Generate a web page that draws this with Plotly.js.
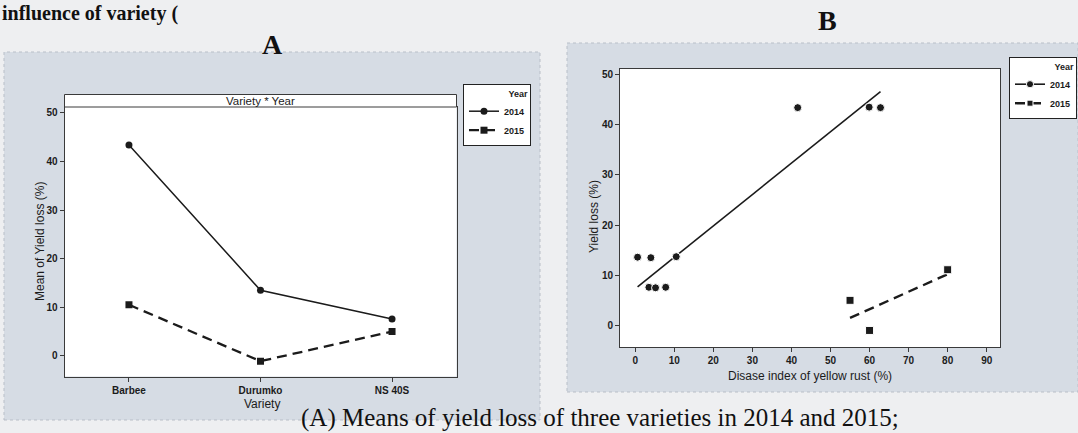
<!DOCTYPE html>
<html><head><meta charset="utf-8">
<script src="https://cdn.plot.ly/plotly-3.0.1.min.js"></script>
<style>html,body{margin:0;padding:0;background:#eeeff1;}#chart{width:1078px;height:433px;}</style>
</head><body><div id="chart"></div>
<script>
// Panel A: means of yield loss (%) by variety and year
const varieties = ['Barbee', 'Durumko', 'NS 40S'];
const meanLoss2014 = [43.4, 13.5, 7.6];
const meanLoss2015 = [10.5, -1.1, 5.0];

// Panel B: yield loss (%) vs disease index of yellow rust (%)
const disease2014 = [0.6, 4.0, 3.5, 5.2, 7.8, 10.5, 41.6, 59.9, 62.8];
const loss2014 = [13.6, 13.5, 7.6, 7.5, 7.6, 13.7, 43.4, 43.5, 43.4];
const disease2015 = [55, 60, 80];
const loss2015 = [5.0, -1.0, 11.1];
// fitted line end points
const fitX2014 = [0.6, 62.8];
const fitY2014 = [7.7, 46.6];
const fitX2015 = [55, 80];
const fitY2015 = [1.5, 10.2];

const years = ['2014', '2015'];
const xTicksB = [0, 10, 20, 30, 40, 50, 60, 70, 80, 90];
const yTicks = [0, 10, 20, 30, 40, 50];

const W = 1078, H = 433;
const px = v => v / W;
const py = v => 1 - v / H;
const ink = '#1b1b1b';
const tickFont = {family: 'Liberation Sans Narrow, Arial Narrow, sans-serif', size: 10, color: ink, weight: 'bold'};
const legFont = {family: 'Liberation Sans Narrow, Arial Narrow, sans-serif', size: 9, color: ink, weight: 'bold'};
const labFont = {family: 'Liberation Sans, Arial, sans-serif', size: 12, color: ink};

// scatter points and fitted line in one trace: gaps between points so only the fit is joined
function combined(xs, ys, fx, fy, size) {
  const X = [], Y = [], S = [];
  xs.forEach((v, i) => { X.push(v); Y.push(ys[i]); S.push(size); X.push(null); Y.push(null); S.push(size); });
  X.push(fx[0], fx[1]); Y.push(fy[0], fy[1]); S.push(0, 0);
  return {X, Y, S};
}
const c14 = combined(disease2014, loss2014, fitX2014, fitY2014, 8);
const c15 = combined(disease2015, loss2015, fitX2015, fitY2015, 8);

const traces = [
  {x: varieties, y: meanLoss2014, name: years[0], type: 'scatter', mode: 'lines+markers',
   xaxis: 'x', yaxis: 'y', legend: 'legend',
   line: {color: ink, width: 1.5}, marker: {symbol: 'circle', size: 7, color: ink, opacity: 1}},
  {x: varieties, y: meanLoss2015, name: years[1], type: 'scatter', mode: 'lines+markers',
   xaxis: 'x', yaxis: 'y', legend: 'legend',
   line: {color: ink, width: 2.3, dash: '10px,6px'}, marker: {symbol: 'square', size: 7, color: ink, opacity: 1}},
  {x: c14.X, y: c14.Y, name: years[0], type: 'scatter', mode: 'lines+markers', connectgaps: false,
   xaxis: 'x2', yaxis: 'y2', legend: 'legend2',
   line: {color: ink, width: 1.6}, marker: {symbol: 'circle', size: c14.S, color: ink, opacity: 1}},
  {x: c15.X, y: c15.Y, name: years[1], type: 'scatter', mode: 'lines+markers', connectgaps: false,
   xaxis: 'x2', yaxis: 'y2', legend: 'legend2',
   line: {color: ink, width: 2.4, dash: '10px,6px'}, marker: {symbol: 'square', size: c15.S, color: ink, opacity: 1}}
];

const axBase = {showline: true, mirror: true, linecolor: '#3a3a3a', linewidth: 1, showgrid: false,
  zeroline: false, ticks: 'outside', ticklen: 4, tickwidth: 1, tickcolor: '#3a3a3a',
  tickfont: tickFont, automargin: false, fixedrange: true};

const legBase = {bgcolor: '#ffffff', bordercolor: '#222', borderwidth: 1, font: legFont,
  title: {text: 'Year', font: legFont, side: 'top right'}, xanchor: 'left', yanchor: 'top',
  tracegroupgap: 0, itemwidth: 30};

const frame = '#d6dce4';
const layout = {
  width: W, height: H,
  margin: {l: 0, r: 0, t: 0, b: 0},
  paper_bgcolor: '#eeeff1', plot_bgcolor: '#ffffff',
  showlegend: true,
  xaxis: Object.assign({}, axBase, {domain: [px(64.5), px(456.5)], type: 'category',
    categoryorder: 'array', categoryarray: varieties, range: [-0.49, 2.49]}),
  yaxis: Object.assign({}, axBase, {domain: [py(376.5), py(107)], range: [-4.25, 51.2], tickvals: yTicks}),
  xaxis2: Object.assign({}, axBase, {domain: [px(620), px(1000)], range: [-3.9, 93.4], tickvals: xTicksB, anchor: 'y2'}),
  yaxis2: Object.assign({}, axBase, {domain: [py(347), py(69)], range: [-4.3, 51.1], tickvals: yTicks, anchor: 'x2'}),
  legend: Object.assign({}, legBase, {x: px(463), y: py(84)}),
  legend2: Object.assign({}, legBase, {x: px(1009), y: py(57)}),
  shapes: [
    {type: 'rect', xref: 'paper', yref: 'paper', x0: px(4), x1: px(540), y0: py(420), y1: py(52),
     fillcolor: frame, line: {color: '#b9bfc8', width: 1, dash: 'dot'}, layer: 'below'},
    {type: 'rect', xref: 'paper', yref: 'paper', x0: px(567), x1: px(1078), y0: py(392), y1: py(43),
     fillcolor: frame, line: {color: '#b9bfc8', width: 1, dash: 'dot'}, layer: 'below'},
    {type: 'rect', xref: 'paper', yref: 'paper', x0: px(64.5), x1: px(456.5), y0: py(376.5), y1: py(107),
     fillcolor: '#ffffff', line: {width: 0}, layer: 'below'},
    {type: 'rect', xref: 'paper', yref: 'paper', x0: px(620), x1: px(1000), y0: py(347), y1: py(69),
     fillcolor: '#ffffff', line: {width: 0}, layer: 'below'},
    {type: 'rect', xref: 'paper', yref: 'paper', x0: px(64.5), x1: px(456.5), y0: py(107), y1: py(94.5),
     fillcolor: '#ffffff', line: {color: '#3a3a3a', width: 1}, layer: 'above'}
  ],
  annotations: [
    {text: 'influence of variety (', xref: 'paper', yref: 'paper', x: px(0), y: py(13), xanchor: 'left', yanchor: 'middle',
     showarrow: false, font: {family: 'Liberation Serif, Times New Roman, serif', size: 20, color: '#111', weight: 'bold'}},
    {text: 'A', xref: 'paper', yref: 'paper', x: px(272), y: py(45), xanchor: 'center', yanchor: 'middle',
     showarrow: false, font: {family: 'Liberation Serif, Times New Roman, serif', size: 28, color: '#111', weight: 'bold'}},
    {text: 'B', xref: 'paper', yref: 'paper', x: px(827), y: py(21), xanchor: 'center', yanchor: 'middle',
     showarrow: false, font: {family: 'Liberation Serif, Times New Roman, serif', size: 28, color: '#111', weight: 'bold'}},
    {text: 'Variety * Year', xref: 'paper', yref: 'paper', x: px(260.5), y: py(100.5), xanchor: 'center', yanchor: 'middle',
     showarrow: false, font: {family: 'Liberation Sans, Arial, sans-serif', size: 11.5, color: ink}},
    {text: 'Mean of Yield loss (%)', xref: 'paper', yref: 'paper', x: px(40), y: py(242), textangle: -90,
     xanchor: 'center', yanchor: 'middle', showarrow: false, font: labFont},
    {text: 'Variety', xref: 'paper', yref: 'paper', x: px(262), y: py(404), xanchor: 'center', yanchor: 'middle',
     showarrow: false, font: labFont},
    {text: 'Yield loss (%)', xref: 'paper', yref: 'paper', x: px(594), y: py(216), textangle: -90,
     xanchor: 'center', yanchor: 'middle', showarrow: false, font: labFont},
    {text: 'Disase index of yellow rust (%)', xref: 'paper', yref: 'paper', x: px(810), y: py(376), xanchor: 'center', yanchor: 'middle',
     showarrow: false, font: labFont},
    {text: '(A) Means of yield loss of three varieties in 2014 and 2015;', xref: 'paper', yref: 'paper', x: px(600), y: py(418),
     xanchor: 'center', yanchor: 'middle', showarrow: false,
     font: {family: 'Liberation Serif, Times New Roman, serif', size: 25, color: '#111'}}
  ]
};

Plotly.newPlot('chart', traces, layout, {displayModeBar: false, staticPlot: true});
</script>
</body></html>
